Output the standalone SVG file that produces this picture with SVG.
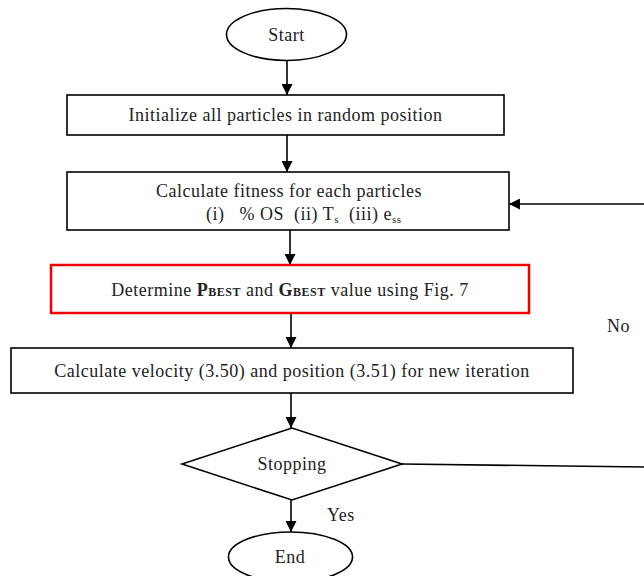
<svg xmlns="http://www.w3.org/2000/svg" width="644" height="576" viewBox="0 0 644 576">
<style>
text{font-family:"Liberation Serif","Times New Roman",serif;font-size:18px;letter-spacing:0.5px;fill:#222;white-space:pre}
.s{fill:#fff;stroke:#000;stroke-width:1.6}
.c{stroke:#000;stroke-width:1.6;fill:none}
.t{text-anchor:middle}
.sc{font-size:12px;font-weight:bold}
</style>
<defs>
<marker id="a" viewBox="0 0 10 10" refX="10" refY="5" markerWidth="11" markerHeight="11" markerUnits="userSpaceOnUse" orient="auto"><path d="M0,0L10,5L0,10z" fill="#000"/></marker>
</defs>
<rect width="644" height="576" fill="#fff"/>
<g id="connectors">
<line class="c" x1="287" y1="61" x2="287" y2="95" marker-end="url(#a)"/>
<line class="c" x1="287" y1="135" x2="287" y2="172" marker-end="url(#a)"/>
<line class="c" x1="290" y1="230" x2="290" y2="265" marker-end="url(#a)"/>
<line class="c" x1="291" y1="313" x2="291" y2="348" marker-end="url(#a)"/>
<line class="c" x1="291" y1="393" x2="291" y2="428" marker-end="url(#a)"/>
<line class="c" x1="291" y1="500" x2="291" y2="532" marker-end="url(#a)"/>
<line class="c" x1="402" y1="464" x2="644" y2="467"/>
<line class="c" x1="644" y1="204" x2="509" y2="204" marker-end="url(#a)"/>
<text x="327" y="521">Yes</text>
<text x="607" y="332">No</text>
</g>
<g id="start">
<ellipse class="s" cx="286.5" cy="34.5" rx="60" ry="26"/>
<text class="t" x="286.5" y="41">Start</text>
</g>
<g id="init">
<rect class="s" x="67" y="95" width="437" height="40"/>
<text class="t" x="285.5" y="121">Initialize all particles in random position</text>
</g>
<g id="fitness">
<rect class="s" x="67" y="172" width="442" height="58"/>
<text class="t" x="289" y="197">Calculate fitness for each particles</text>
<text x="206" y="220">(i)   % OS  (ii) T<tspan font-size="11" dy="3">s</tspan><tspan dy="-3">  (iii) e</tspan><tspan font-size="11" dy="3">ss</tspan></text>
</g>
<g id="best">
<rect x="51" y="265" width="478" height="48" fill="#fff" stroke="#e00" stroke-width="2.5"/>
<text class="t" x="290" y="296">Determine <tspan font-weight="bold">P</tspan><tspan class="sc">BEST</tspan> and <tspan font-weight="bold">G</tspan><tspan class="sc">BEST</tspan> value using Fig. 7</text>
</g>
<g id="velocity">
<rect class="s" x="11" y="348" width="562" height="45"/>
<text class="t" x="292" y="377">Calculate velocity (3.50) and position (3.51) for new iteration</text>
</g>
<g id="stopping">
<polygon class="s" points="182,464 292,428 402,464 292,500"/>
<text class="t" x="292" y="470">Stopping</text>
</g>
<g id="end">
<ellipse class="s" cx="290.5" cy="557" rx="62" ry="25"/>
<text class="t" x="290" y="563">End</text>
</g>
</svg>
